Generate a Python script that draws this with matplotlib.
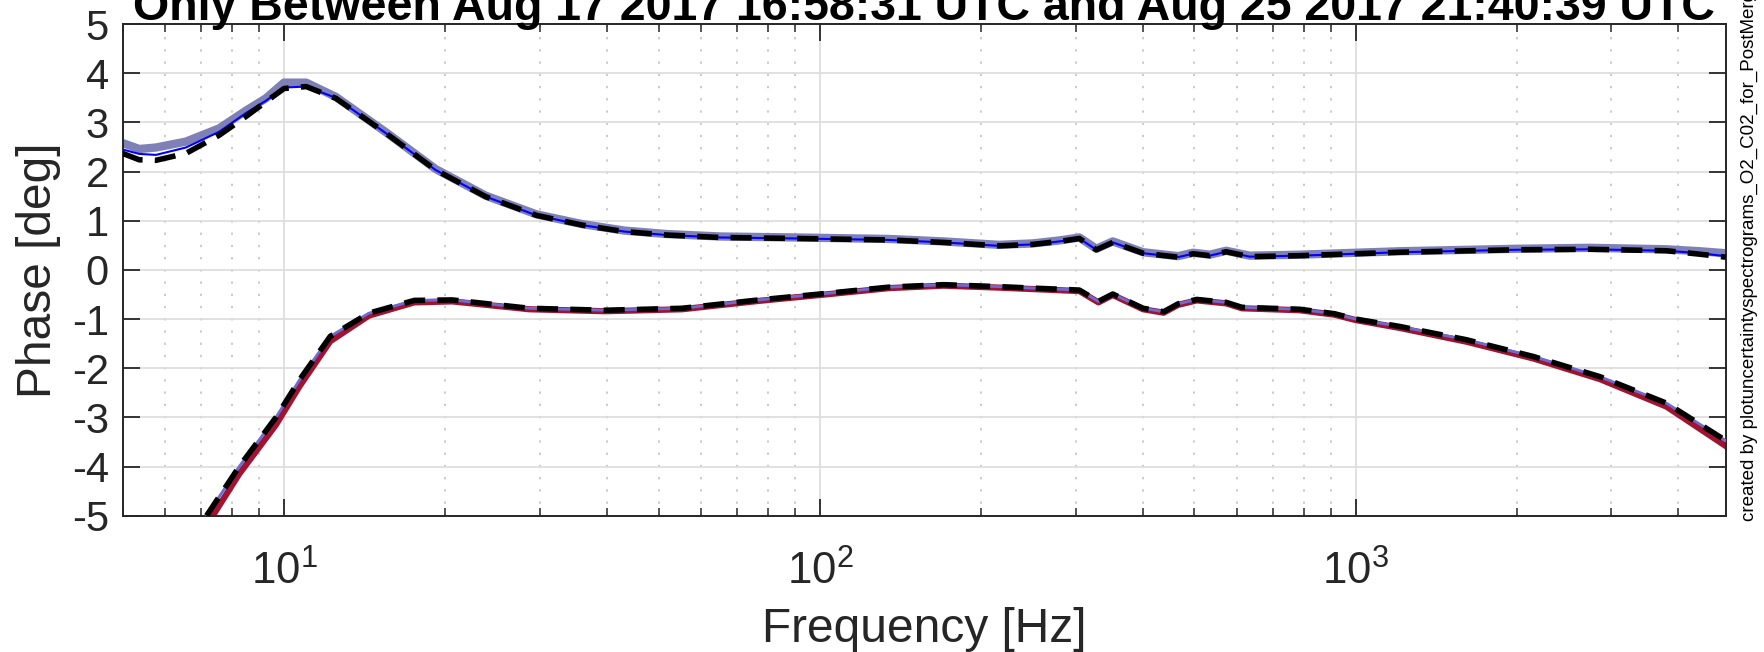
import matplotlib
matplotlib.use("Agg")
import matplotlib.pyplot as plt
from matplotlib.ticker import LogLocator, NullFormatter

plt.rcParams['font.family'] = ['Liberation Sans', 'DejaVu Sans']
plt.rcParams['mathtext.fontset'] = 'custom'
plt.rcParams['mathtext.rm'] = 'Liberation Sans'
plt.rcParams['mathtext.it'] = 'Liberation Sans:italic'
plt.rcParams['axes.unicode_minus'] = False

# upper curve (phase of one quantity)
f_up = [5.0, 5.37, 5.77, 6.56, 7.57, 8.49, 9.25, 10.0, 11.0, 12.5, 15.5, 19.2, 23.8,
        29.6, 36.1, 43.2, 51.8, 65.2, 90.6, 134.5, 170, 216, 250, 280, 305, 328, 352,
        401, 466, 497, 534, 573, 634, 786, 1208, 1994, 2733, 3800, 4385, 4900]
up_band = [2.58, 2.46, 2.49, 2.61, 2.88, 3.24, 3.49, 3.81, 3.81, 3.52, 2.80, 2.05, 1.51,
           1.13, 0.93, 0.80, 0.73, 0.68, 0.66, 0.63, 0.58, 0.51, 0.54, 0.60, 0.66, 0.43, 0.58,
           0.36, 0.28, 0.35, 0.31, 0.39, 0.29, 0.31, 0.38, 0.43, 0.45, 0.42, 0.38, 0.34]
up_line = [2.45, 2.36, 2.34, 2.49, 2.81, 3.19, 3.44, 3.71, 3.73, 3.50, 2.78, 2.03, 1.49,
           1.11, 0.91, 0.78, 0.71, 0.66, 0.64, 0.61, 0.56, 0.49, 0.52, 0.58, 0.64, 0.41, 0.56,
           0.34, 0.26, 0.33, 0.29, 0.37, 0.27, 0.29, 0.36, 0.41, 0.42, 0.39, 0.34, 0.28]
up_dash = [2.37, 2.24, 2.23, 2.37, 2.74, 3.12, 3.42, 3.69, 3.73, 3.49, 2.78, 2.03, 1.49,
           1.11, 0.91, 0.78, 0.71, 0.66, 0.64, 0.61, 0.56, 0.49, 0.52, 0.58, 0.64, 0.41, 0.56,
           0.34, 0.26, 0.33, 0.29, 0.37, 0.27, 0.29, 0.36, 0.41, 0.42, 0.39, 0.32, 0.26]

# lower curve
f_lo = [7.17, 8.25, 9.66, 10.7, 12.2, 14.4, 17.5, 20.6, 28.7, 39.8, 55.3, 76.9, 100,
        134.5, 170, 216, 305, 331, 352, 401, 438, 466, 505, 573, 613, 786, 912, 1000,
        1208, 1609, 2143, 2853, 3800, 4900]
lo_line = [-5.0, -4.0, -3.0, -2.23, -1.35, -0.88, -0.62, -0.61, -0.78, -0.82, -0.78, -0.61, -0.49,
           -0.35, -0.30, -0.34, -0.41, -0.64, -0.49, -0.78, -0.85, -0.69, -0.60, -0.66, -0.76,
           -0.80, -0.89, -1.0, -1.15, -1.42, -1.76, -2.17, -2.71, -3.47]
lo_red = [-5.2, -4.15, -3.15, -2.36, -1.45, -0.93, -0.66, -0.64, -0.80, -0.84, -0.80, -0.63, -0.51,
          -0.37, -0.32, -0.36, -0.43, -0.66, -0.51, -0.80, -0.87, -0.71, -0.62, -0.68, -0.78,
          -0.82, -0.91, -1.02, -1.18, -1.46, -1.80, -2.22, -2.78, -3.58]

yticks = [-5, -4, -3, -2, -1, 0, 1, 2, 3, 4, 5]
title = "Only Between Aug 17 2017 16:58:31 UTC and Aug 25 2017 21:40:39 UTC"
side_note = "created by plotuncertaintyspectrograms_O2_C02_for_PostMerger"

fig = plt.figure(figsize=(17.65, 6.52), dpi=100)
ax = fig.add_axes([0.0695, 0.209, 0.9082, 0.754])

ax.plot(f_up, up_band, color='#7f80b6', lw=6, solid_capstyle='butt', zorder=2)
ax.plot(f_up, up_line, color='#0000ff', lw=1.5, zorder=3)
ax.plot(f_lo, lo_red, color='#a01431', lw=4.5, zorder=2)
ax.plot(f_lo, lo_line, color='#6b6bd0', lw=2, zorder=3)
ax.plot(f_up, up_dash, color='k', lw=4, linestyle=(0, (3.8, 2.2)), zorder=4)
ax.plot(f_lo, lo_line, color='k', lw=4, linestyle=(0, (3.8, 2.2)), zorder=4)

ax.set_xscale('log')
ax.set_xlim(5, 4900)
ax.set_ylim(-5, 5)
ax.set_yticks(yticks)
ax.xaxis.set_major_locator(LogLocator(base=10, numticks=10))
ax.xaxis.set_minor_locator(LogLocator(base=10, subs=range(2, 10), numticks=40))
ax.xaxis.set_minor_formatter(NullFormatter())

ax.grid(True, which='major', color='#dcdcdc', lw=1.2, ls='-')
ax.grid(True, which='minor', axis='x', color='#bdbdbd', lw=1.1, ls=(0, (1.5, 6.5)))
ax.set_axisbelow(True)

ax.tick_params(which='both', direction='in', top=True, right=True, colors='#262626')
ax.tick_params(which='major', length=12, width=1.3, labelsize=30)
ax.tick_params(axis='x', which='major', pad=25, labelsize=31.5)
ax.tick_params(axis='y', which='major', pad=10)
ax.tick_params(which='minor', length=6, width=1.1)
for s in ax.spines.values():
    s.set_color('#262626')
    s.set_linewidth(1.4)

ax.set_xlabel("Frequency [Hz]", fontsize=34.5, color='#262626', labelpad=10)
ax.set_ylabel("Phase [deg]", fontsize=34.5, color='#262626', labelpad=8)

fig.text(0.5235, 0.970, title, ha='center', va='baseline', fontsize=33.5,
         fontweight='bold', color='k')
fig.text(0.991, 0.201, side_note, rotation=90, ha='center', va='bottom',
         fontsize=13.5, color='k')

fig.savefig("out.png", dpi=100)
